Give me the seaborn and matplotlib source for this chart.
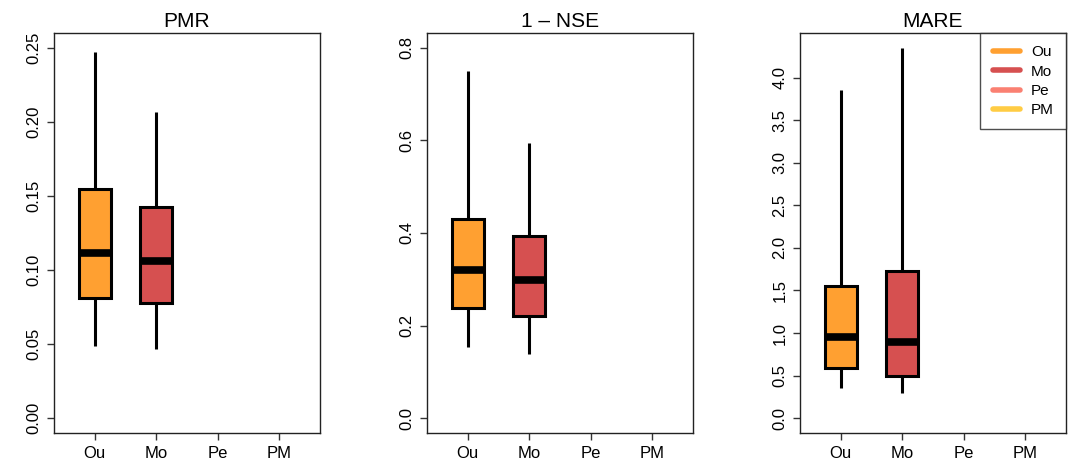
import matplotlib
matplotlib.use("Agg")
import matplotlib.pyplot as plt
from matplotlib.lines import Line2D
import seaborn as sns
import pandas as pd

# five-number summaries (min, q1, median, q3, max)
models = ["Ou", "Mo", "Pe", "PM"]
colors = ["#FFA031", "#D65050", "#FA8072", "#FFCC44"]

pmr_ou = [0.049, 0.081, 0.1115, 0.155, 0.247]
pmr_mo = [0.047, 0.0775, 0.106, 0.1425, 0.207]

nse_ou = [0.1535, 0.238, 0.320, 0.430, 0.750]
nse_mo = [0.138, 0.2205, 0.298, 0.3935, 0.595]

mare_ou = [0.35, 0.59, 0.955, 1.55, 3.85]
mare_mo = [0.30, 0.50, 0.895, 1.73, 4.35]

titles = ["PMR", "1 \u2013 NSE", "MARE"]
yticks = [
    [0.00, 0.05, 0.10, 0.15, 0.20, 0.25],
    [0.0, 0.2, 0.4, 0.6, 0.8],
    [0.0, 0.5, 1.0, 1.5, 2.0, 2.5, 3.0, 3.5, 4.0],
]
ytick_fmt = ["{:.2f}", "{:.1f}", "{:.1f}"]
ylims = [(-0.01, 0.26), (-0.032, 0.832), (-0.174, 4.524)]

panels = [
    {"Ou": pmr_ou, "Mo": pmr_mo},
    {"Ou": nse_ou, "Mo": nse_mo},
    {"Ou": mare_ou, "Mo": mare_mo},
]

sns.set_style("white")
plt.rcParams["font.family"] = ["Liberation Sans", "DejaVu Sans"]
plt.rcParams["text.color"] = "black"
plt.rcParams["xtick.color"] = "black"
plt.rcParams["ytick.color"] = "black"

fig = plt.figure(figsize=(10.76, 4.76), dpi=100)
lefts = [54, 427, 800]
palette = dict(zip(models, colors))

for i, left in enumerate(lefts):
    ax = fig.add_axes([left / 1076, 43 / 476, 266 / 1076, 400 / 476])
    rows = []
    for m, vals in panels[i].items():
        for v in vals:
            rows.append({"model": m, "value": v})
    df = pd.DataFrame(rows)
    sns.boxplot(data=df, x="model", y="value", hue="model", order=models,
                hue_order=models, palette=palette, dodge=False, legend=False,
                whis=(0, 100), width=0.52, saturation=1, linewidth=2.2,
                linecolor="black", ax=ax,
                medianprops=dict(color="black", linewidth=5.5, solid_capstyle="butt"),
                whiskerprops=dict(color="black", linewidth=2.2),
                capprops=dict(linewidth=0),
                boxprops=dict(edgecolor="black", linewidth=2.2))
    ax.set_xlim(-0.66, 3.66)
    ax.set_ylim(*ylims[i])
    ax.set_yticks(yticks[i])
    ax.set_yticklabels([ytick_fmt[i].format(t) for t in yticks[i]], rotation=90,
                       va="center")
    ax.set_xticks(range(4))
    ax.set_xticklabels(models)
    ax.set_xlabel("")
    ax.set_ylabel("")
    ax.set_title(titles[i], fontsize=15, pad=4, color="black")
    ax.tick_params(axis="both", direction="out", length=5, width=1, color="#333333",
                   labelsize=12, left=True, bottom=True, pad=4)
    for s in ax.spines.values():
        s.set_color("#222222")
        s.set_linewidth(1)

    if i == 2:
        handles = [Line2D([0], [0], color=c, linewidth=4, solid_capstyle="round")
                   for c in colors]
        leg = ax.legend(handles, models, loc="upper right", borderaxespad=0,
                        fontsize=11, handlelength=1.8, handletextpad=0.7,
                        frameon=True, fancybox=False,
                        borderpad=0.8, labelspacing=0.35)
        leg.get_frame().set_edgecolor("#222222")
        leg.get_frame().set_linewidth(1)

fig.savefig("out.png", dpi=100)
